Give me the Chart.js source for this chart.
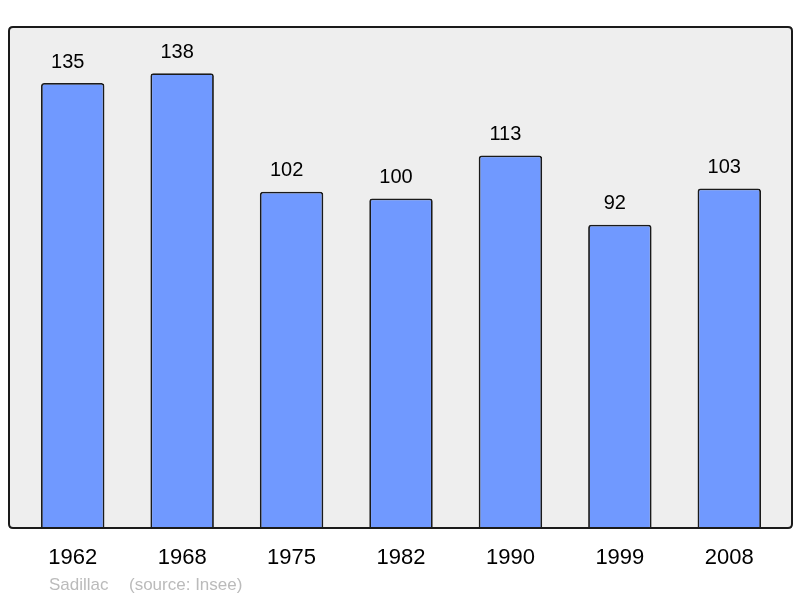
<!DOCTYPE html>
<html>
<head>
<meta charset="utf-8">
<script src="https://cdn.jsdelivr.net/npm/chart.js@4"></script>
<style>
  html, body { margin: 0; padding: 0; background: #ffffff; }
  #wrap { width: 800px; height: 598px; }
</style>
</head>
<body>
<div id="wrap"><canvas id="popChart" width="800" height="598"></canvas></div>
<script>
// --- Données ---
const years = ['1962', '1968', '1975', '1982', '1990', '1999', '2008'];
const population = [135, 138, 102, 100, 113, 92, 103];
const yMax = 152;
const sourceLabel = 'Sadillac';
const sourceNote = '(source: Insee)';

const FONT = "'Liberation Sans', Arial, sans-serif";

// fond gris + cadre arrondi autour de la zone du graphique
const framePlugin = {
    id: 'frame',
    beforeDatasetsDraw(chart) {
        const { ctx, chartArea } = chart;
        ctx.save();
        roundRect(ctx, chartArea.left - 9, chartArea.top, chartArea.width + 17, chartArea.height, 4);
        ctx.fillStyle = '#eeeeee';
        ctx.fill();
        ctx.restore();
    },
    afterDatasetsDraw(chart) {
        const { ctx, chartArea } = chart;
        ctx.save();
        roundRect(ctx, chartArea.left - 9, chartArea.top, chartArea.width + 17, chartArea.height, 4);
        ctx.lineWidth = 2;
        ctx.strokeStyle = '#1a1a1a';
        ctx.stroke();

        // valeurs au-dessus des barres (légèrement décalées à gauche comme l'original)
        const meta = chart.getDatasetMeta(0);
        ctx.fillStyle = '#000000';
        ctx.font = '20px ' + FONT;
        ctx.textAlign = 'center';
        ctx.textBaseline = 'middle';
        meta.data.forEach((bar, i) => {
            ctx.fillText(String(population[i]), bar.x - 5, bar.y - 21);
        });

        // source
        ctx.fillStyle = '#bbbbbb';
        ctx.font = '17px ' + FONT;
        ctx.textAlign = 'left';
        ctx.fillText(sourceLabel, 49, 585);
        ctx.fillText(sourceNote, 129, 585);
        ctx.restore();
    }
};

function roundRect(ctx, x, y, w, h, r) {
    ctx.beginPath();
    ctx.moveTo(x + r, y);
    ctx.lineTo(x + w - r, y);
    ctx.quadraticCurveTo(x + w, y, x + w, y + r);
    ctx.lineTo(x + w, y + h - r);
    ctx.quadraticCurveTo(x + w, y + h, x + w - r, y + h);
    ctx.lineTo(x + r, y + h);
    ctx.quadraticCurveTo(x, y + h, x, y + h - r);
    ctx.lineTo(x, y + r);
    ctx.quadraticCurveTo(x, y, x + r, y);
    ctx.closePath();
}

const chart = new Chart(document.getElementById('popChart').getContext('2d'), {
    type: 'bar',
    data: {
        labels: years,
        datasets: [{
            data: population,
            backgroundColor: '#7099ff',
            borderColor: '#1a1a1a',
            borderWidth: 1.8,
            borderRadius: 3,
            borderSkipped: 'bottom',
            categoryPercentage: 1,
            barPercentage: 0.58
        }]
    },
    options: {
        responsive: false,
        animation: false,
        layout: { padding: { left: 18, right: 16, top: 27, bottom: 0 } },
        plugins: {
            legend: { display: false },
            tooltip: { enabled: false }
        },
        scales: {
            y: {
                display: false,
                min: 0,
                max: yMax
            },
            x: {
                grid: { display: false, drawTicks: false },
                border: { display: false },
                ticks: {
                    color: '#000000',
                    font: { family: FONT, size: 22 },
                    padding: 17
                },
                afterFit(scale) { scale.height = 70; }
            }
        }
    },
    plugins: [framePlugin]
});
</script>
</body>
</html>
